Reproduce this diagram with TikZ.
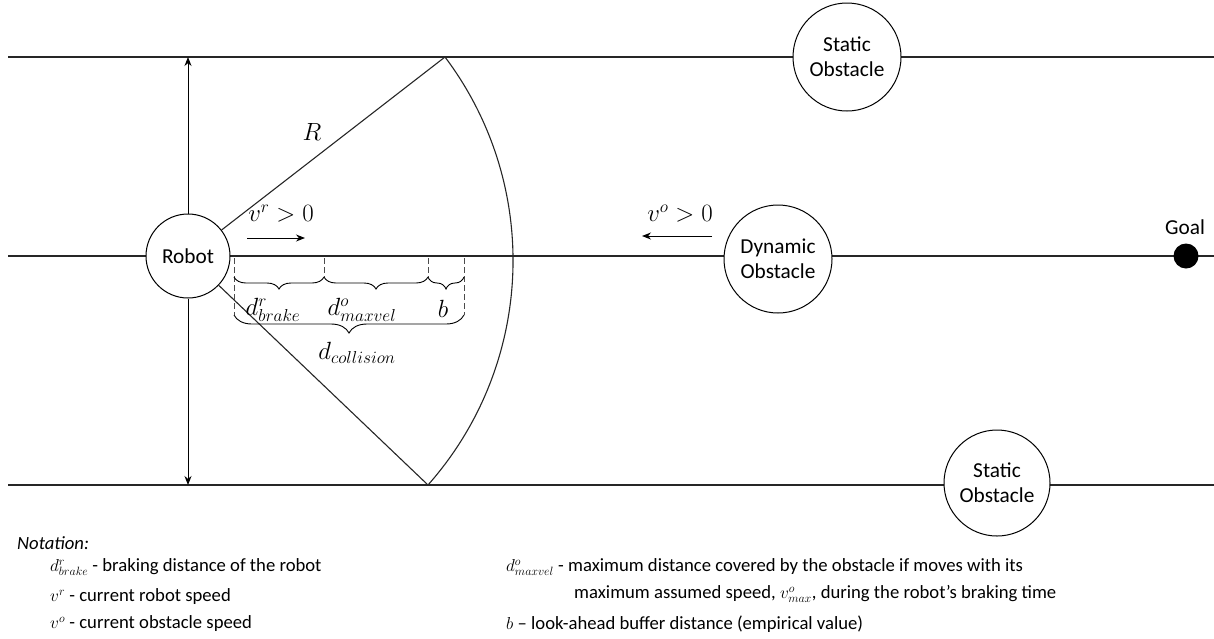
\documentclass[tikz,border=0pt]{standalone}
\usepackage{fontspec}
\setmainfont{Carlito}
\usetikzlibrary{arrows.meta,decorations.pathreplacing,calc}
\begin{document}
\begin{tikzpicture}[x=1pt,y=-1pt,
  ln/.style={line width=1.1pt, draw=black!85},
  circ/.style={circle, draw, line width=1pt, fill=white, inner sep=0pt, align=center, font=\fontsize{21.3}{25}\selectfont},
  arr/.style={-{Stealth[length=9pt,width=7pt]}, line width=1pt},
  dsh/.style={dash pattern=on 6pt off 3pt, line width=0.9pt, draw=black!70},
  brc/.style={decorate, decoration={brace, mirror, amplitude=#1}, line width=0.9pt},
  lbl/.style={inner sep=0pt, font=\fontsize{24}{28}\selectfont},
  note/.style={anchor=west, inner sep=0pt, font=\fontsize{18.67}{22}\selectfont}
]
\useasboundingbox (0,0) rectangle (1214,638);
% horizontal lanes
\coordinate (tl) at (8,57);  \coordinate (tr) at (1214,57);
\coordinate (ml) at (8,256); \coordinate (mr) at (1214,256);
\coordinate (bl) at (8,485); \coordinate (br) at (1214,485);
\draw[ln] (tl) -- (tr);
\draw[ln] (ml) -- (mr);
\draw[ln] (bl) -- (br);
% sector
\coordinate (tv) at (445,57);
\coordinate (bv) at (428,485);
\draw[ln] (tv) arc[start angle=-36.96, end angle=41.5, radius=338.6];
% nodes
\node[circ, minimum size=84pt] (robot) at (188,256) {Robot};
\node[circ, minimum size=108pt] (s1) at (847,57) {Static\\Obstacle};
\node[circ, minimum size=108pt] (dyn) at (778,259) {Dynamic\\Obstacle};
\node[circ, minimum size=106pt] (s2) at (997,483) {Static\\Obstacle};
\node[circle, fill=black, minimum size=25pt, inner sep=0pt] (goal) at (1186,256) {};
\node[inner sep=0pt, font=\fontsize{21.3}{25}\selectfont] (goallbl) at (1185,227) {Goal};
% radius lines
\draw[ln] (robot) -- (tv);
\draw[ln] (robot) -- (bv);
\node[lbl] (R) at (312,132) {$R$};
% vertical arrows
\coordinate (ta) at (188,57);
\coordinate (ba) at (188,485);
\draw[arr] (robot) -- (ta);
\draw[arr] (robot) -- (ba);
% speed arrows
\coordinate (vra) at (247,238); \coordinate (vrb) at (305,238);
\draw[arr] (vra) -- (vrb);
\node[lbl] (vrl) at (281,214) {$v^r>0$};
\coordinate (voa) at (712,236); \coordinate (vob) at (642,236);
\draw[arr] (voa) -- (vob);
\node[lbl] (vol) at (680,214) {$v^o>0$};
% dashed guides
\coordinate (d1t) at (234,258); \coordinate (d1m) at (234,277); \coordinate (d1b) at (234,315);
\coordinate (d2t) at (324,258); \coordinate (d2m) at (324,277);
\coordinate (d3t) at (428,258); \coordinate (d3m) at (428,277);
\coordinate (d4t) at (464,258); \coordinate (d4m) at (464,277); \coordinate (d4b) at (464,315);
\draw[dsh] (d1t) -- (d1b);
\draw[dsh] (d2t) -- (d2m);
\draw[dsh] (d3t) -- (d3m);
\draw[dsh] (d4t) -- (d4b);
% braces
\draw[brc=12pt] (d1m) -- (d2m);
\draw[brc=12pt] (d2m) -- (d3m);
\draw[brc=12pt] (d3m) -- (d4m);
\draw[brc=18pt] (d1b) -- (d4b);
\node[lbl] (lbr) at (273,310) {$d^r_{brake}$};
\node[lbl] (lmv) at (362,310) {$d^o_{maxvel}$};
\node[lbl] (lb) at (443,309) {$b$};
\node[lbl] (lcol) at (357,353) {$d_{collision}$};
% notation
\node[note, font=\fontsize{18.67}{22}\selectfont\itshape] (nt) at (17,543) {Notation:};
\node[note] (n1) at (50,567) {$d^r_{brake}$ - braking distance of the robot};
\node[note] (n2) at (50,597) {$v^r$ - current robot speed};
\node[note] (n3) at (50,624) {$v^o$ - current obstacle speed};
\node[note] (n4) at (506,567) {$d^o_{maxvel}$ - maximum distance covered by the obstacle if moves with its};
\node[note] (n5) at (574,594) {maximum assumed speed, $v^o_{max}$, during the robot’s braking time};
\node[note] (n6) at (506,624) {$b$ -- look-ahead buffer distance (empirical value)};
\end{tikzpicture}
\end{document}
